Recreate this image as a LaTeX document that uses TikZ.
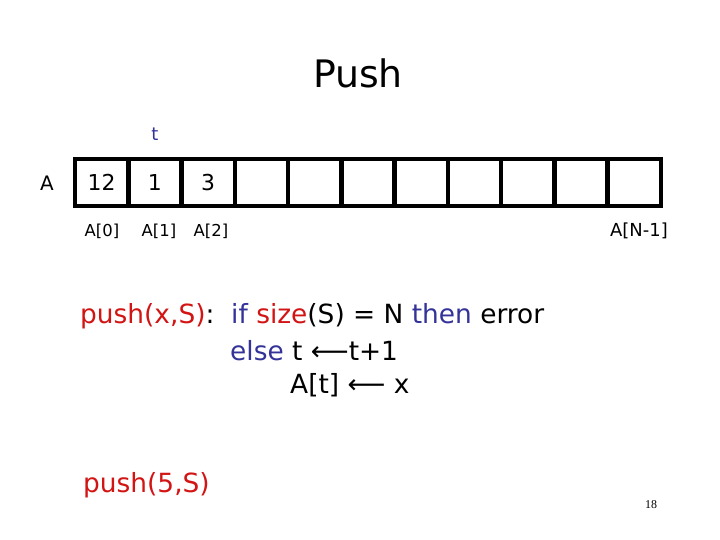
\documentclass[tikz,border=0pt]{standalone}
\usepackage{fontspec}
\setmainfont{DejaVu Sans}
\newfontfamily\numfont{Liberation Serif}
\definecolor{cred}{RGB}{210,20,20}
\definecolor{cblue}{RGB}{51,51,153}
\begin{document}
\begin{tikzpicture}[x=1bp,y=-1bp,
  cell/.style={draw=black,line width=4.5bp,minimum width=53.3bp,minimum height=47bp,inner sep=0pt,outer sep=0pt,anchor=north west,font=\fontsize{22}{24}\selectfont},
  lbl/.style={inner sep=0pt,font=\fontsize{16.5}{19}\selectfont},
  code/.style={inner sep=0pt,anchor=base west,font=\fontsize{26.5}{30}\selectfont}]
\useasboundingbox (0,0) rectangle (720,540);
\node[inner sep=0pt,font=\fontsize{38}{42}\selectfont] (title) at (358,73) {Push};
\node[lbl,font=\fontsize{20}{22}\selectfont] (Alab) at (47,183) {A};
\foreach \i/\v in {0/12,1/1,2/3,3/,4/,5/,6/,7/,8/,9/,10/}{
  \node[cell] (c\i) at ({75+53.27*\i},159) {\v};
}
\node[lbl,text=cblue,font=\fontsize{18}{20}\selectfont] (t) at (155,134) {t};
\node[lbl] (a0) at (102,231) {A[0]};
\node[lbl] (a1) at (159,231) {A[1]};
\node[lbl] (a2) at (211,231) {A[2]};
\node[lbl,font=\fontsize{18}{20}\selectfont] (an) at (639,231) {A[N-1]};
\node[code] (l1) at (80,323) {\textcolor{cred}{push(x,S)}:\ \ \textcolor{cblue}{if} \textcolor{cred}{size}(S) = N \textcolor{cblue}{then} error};
\node[code] (l2) at (230,360) {\textcolor{cblue}{else} t ⟵t+1};
\node[code] (l3) at (290,393) {A[t] ⟵ x};
\node[code,text=cred] (p5) at (83,492) {push(5,S)};
\node[inner sep=0pt,font=\numfont\fontsize{12}{14}\selectfont] (pg) at (651,505) {18};
\end{tikzpicture}
\end{document}
